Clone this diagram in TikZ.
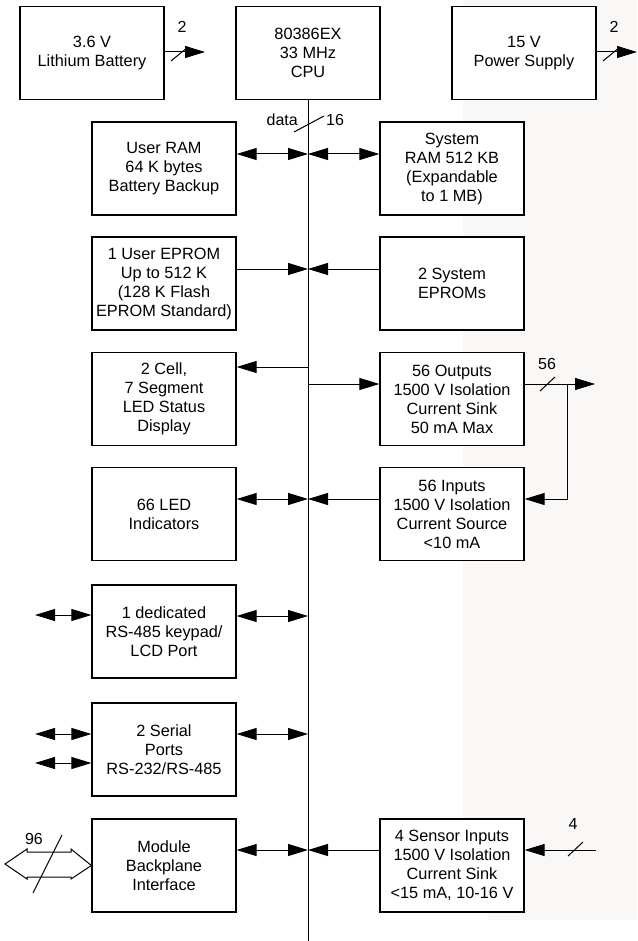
\documentclass[tikz,border=0pt]{standalone}
\usepackage{fontspec}
\setmainfont{Liberation Sans}
\usetikzlibrary{arrows.meta}
\definecolor{bgright}{RGB}{249,248,246}
\tikzset{
  blk/.style={draw, fill=white, line width=1.2pt, minimum width=144pt, minimum height=93pt,
    inner sep=0pt, align=center, font=\fontsize{16.3}{19}\selectfont},
  lbl/.style={inner sep=0pt, font=\fontsize{16}{19}\selectfont},
  conn/.style={line width=1pt},
  tip/.style={line width=1pt, -{Triangle[length=20pt,width=12pt]}},
  dtip/.style={line width=1pt, {Triangle[length=20pt,width=12pt]}-{Triangle[length=20pt,width=12pt]}},
}
\begin{document}
\begin{tikzpicture}[x=1pt,y=-1pt]
\useasboundingbox (0,0) rectangle (637,941);
\fill[white] (0,0) rectangle (637,941);
\fill[bgright] (463,0) -- (637,0) -- (637,920) -- (488,920) -- (488,870) -- (463,870) -- cycle;

% blocks
\node[blk] (bat) at (92,53) {\raisebox{5pt}{\begin{tabular}{@{}c@{}}3.6 V\\Lithium Battery\end{tabular}}};
\node[blk] (cpu) at (308,53) {80386EX\\33 MHz\\CPU};
\node[blk] (pwr) at (524,53) {\raisebox{5pt}{\begin{tabular}{@{}c@{}}15 V\\Power Supply\end{tabular}}};
\node[blk] (uram) at (164,168.5) {User RAM\\64 K bytes\\Battery Backup};
\node[blk] (sram) at (452,168.5) {System\\RAM 512 KB\\(Expandable\\to 1 MB)};
\node[blk] (ueprom) at (164,283.5) {1 User EPROM\\Up to 512 K\\(128 K Flash\\EPROM Standard)};
\node[blk] (seprom) at (452,283.5) {2 System\\EPROMs};
\node[blk] (cell) at (164,399) {2 Cell,\\7 Segment\\LED Status\\Display};
\node[blk] (outs) at (452,399) {56 Outputs\\1500 V Isolation\\Current Sink\\50 mA Max};
\node[blk] (led) at (164,514) {66 LED\\Indicators};
\node[blk] (ins) at (452,514) {56 Inputs\\1500 V Isolation\\Current Source\\<10 mA};
\node[blk] (rs485) at (164,631.5) {1 dedicated\\RS-485 keypad/\\LCD Port};
\node[blk] (serial) at (164,749.5) {2 Serial\\Ports\\RS-232/RS-485};
\node[blk] (module) at (164,865.5) {Module\\Backplane\\Interface};
\node[blk] (sensor) at (452,865.5) {4 Sensor Inputs\\1500 V Isolation\\Current Sink\\<15 mA, 10-16 V};

% bus
\coordinate (busbot) at (308,941);
\draw[conn] (cpu.south) -- (busbot);
\draw[conn] (294,132) -- (324,116);
\node[lbl, anchor=east] (datal) at (298,120) {data};
\node[lbl, anchor=west] (sixteen) at (326,120) {16};

% bus tap points
\coordinate (b1) at (308,154);
\coordinate (b2) at (308,269);
\coordinate (b3) at (308,367);
\coordinate (b4) at (308,384);
\coordinate (b5) at (308,499);
\coordinate (b6) at (308,616);
\coordinate (b7) at (308,734);
\coordinate (b8) at (308,850);

% power arrows
\coordinate (batend) at (205,52);
\draw[tip] (bat.east |- batend) -- (batend);
\draw[conn] (171,61) -- (188,47);
\node[lbl] (bat2) at (182,27) {2};
\coordinate (pwrend) at (637,52);
\draw[tip] (pwr.east |- pwrend) -- (pwrend);
\draw[conn] (603,61) -- (620,47);
\node[lbl] (pwr2) at (614,27) {2};

% row connections
\draw[dtip] (uram.east |- b1) -- (b1);
\draw[dtip] (b1) -- (sram.west |- b1);
\draw[tip] (ueprom.east |- b2) -- (b2);
\draw[tip] (seprom.west |- b2) -- (b2);
\draw[tip] (b3) -- (cell.east |- b3);
\draw[tip] (b4) -- (outs.west |- b4);
\coordinate (outend) at (595,384);
\draw[tip] (outs.east |- b4) -- (outend);
\draw[conn] (540,391) -- (555,377);
\node[lbl] (n56) at (547,364) {56};
\coordinate (fb) at (567,384);
\draw[tip] (fb) |- (ins.east |- b5);
\draw[dtip] (led.east |- b5) -- (b5);
\draw[tip] (ins.west |- b5) -- (b5);
\draw[dtip] (rs485.east |- b6) -- (b6);
\coordinate (rsext) at (35,615);
\draw[dtip] (rsext) -- (rs485.west |- rsext);
\draw[dtip] (serial.east |- b7) -- (b7);
\coordinate (ser1) at (35,734);
\coordinate (ser2) at (35,763);
\draw[dtip] (ser1) -- (serial.west |- ser1);
\draw[dtip] (ser2) -- (serial.west |- ser2);
\draw[dtip] (module.east |- b8) -- (b8);
\draw[tip] (sensor.west |- b8) -- (b8);
\coordinate (sensext) at (596,850);
\draw[tip] (sensext) -- (sensor.east |- sensext);
\draw[conn] (568,856) -- (583,842);
\node[lbl] (n4) at (573,824) {4};

% backplane hollow double arrow
\draw[line width=1pt, fill=white] (5,864) -- (27,849) -- (27,852) -- (71,852) -- (71,849)
  -- (module.west) -- (71,879) -- (71,877) -- (27,877) -- (27,879) -- cycle;
\draw[conn] (33,893) -- (62,835);
\node[lbl] (n96) at (34,839) {96};
\end{tikzpicture}
\end{document}
